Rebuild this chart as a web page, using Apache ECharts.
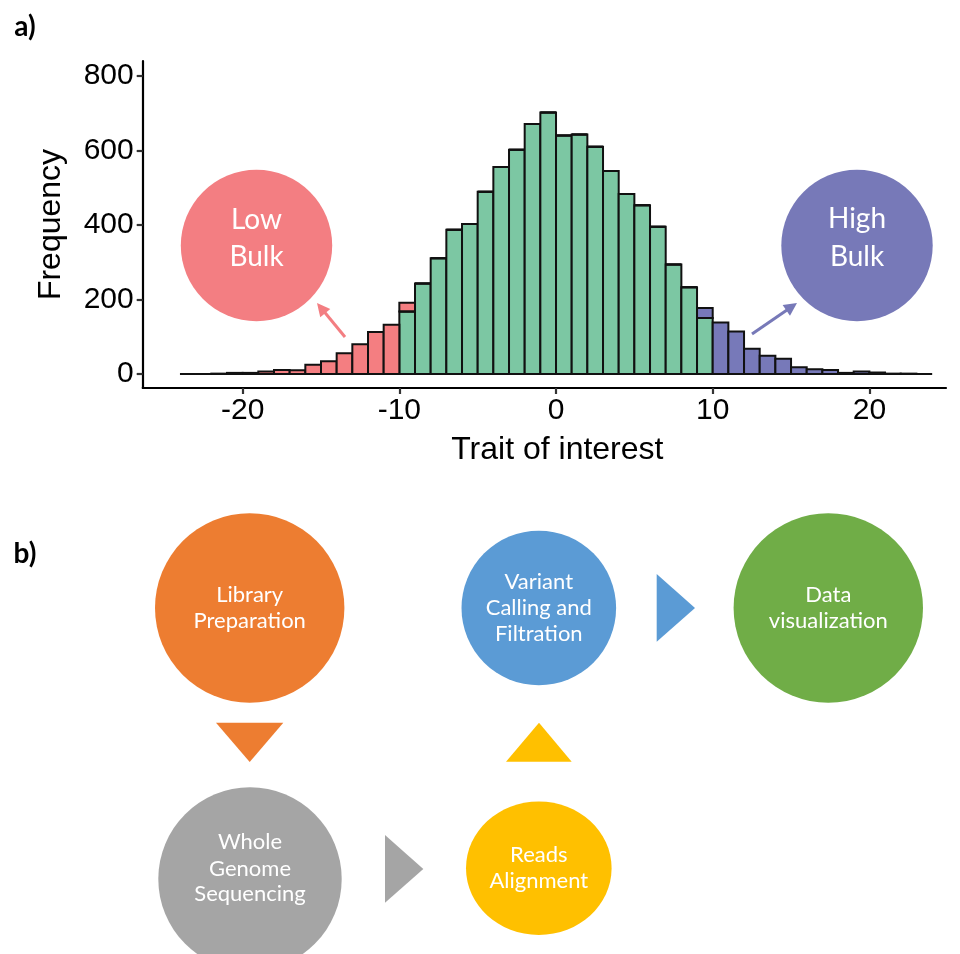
<!DOCTYPE html>
<html>
<head>
<meta charset="utf-8">
<script src="https://cdn.jsdelivr.net/npm/echarts@6/dist/echarts.min.js"></script>
<style>
html,body{margin:0;padding:0;background:#fff;}
#chart{width:960px;height:954px;}
</style>
</head>
<body>
<div id="chart"></div>
<script>
// ---- data ----
const binStart = [-24,-23,-22,-21,-20,-19,-18,-17,-16,-15,-14,-13,-12,-11,-10,-9,-8,-7,-6,-5,-4,-3,-2,-1,0,1,2,3,4,5,6,7,8,9,10,11,12,13,14,15,16,17,18,19,20,21,22,23];
const binWidth = 1;
const lowBulk  = [0,0,1,3,3,7,11,10,25,34,56,80,113,132,23,0,0,0,0,0,0,0,0,0,0,0,0,0,0,0,0,0,0,0,0,0,0,0,0,0,0,0,0,0,0,0,0,0];
const midBulk  = [0,0,0,0,0,0,0,0,0,0,0,0,0,0,168,243,311,387,403,489,556,602,671,702,640,643,610,545,483,453,395,294,233,150,0,0,0,0,0,0,0,0,0,0,0,0,0,0];
const highBulk = [0,0,0,0,0,0,0,0,0,0,0,0,0,0,0,0,0,0,0,0,0,0,0,0,0,0,0,0,0,0,0,0,0,27,138,114,68,49,41,18,13,11,3,7,4,1,1,0];
const xTicks = [-20,-10,0,10,20];
const yTicks = [0,200,400,600,800];

const cLow = '#F47E81', cMid = '#7CC7A3', cHigh = '#7779B9';

function buildRects(which){
  return binStart.map((b,i)=>{
    const m = midBulk[i];
    if(which==='mid') return [b, b+binWidth, 0, m];
    if(which==='low') return [b, b+binWidth, m, m+lowBulk[i]];
    return [b, b+binWidth, m, m+highBulk[i]];
  });
}
function makeRender(color){
  return function(params, api){
    const p0 = api.coord([api.value(0), api.value(3)]);
    const p1 = api.coord([api.value(1), api.value(2)]);
    return {type:'rect', shape:{x:p0[0], y:p0[1], width:p1[0]-p0[0], height:p1[1]-p0[1]},
      style:{fill:color, stroke:'#111', lineWidth:2}};
  };
}
function arrow(x1,y1,x2,y2,color){
  const ang = Math.atan2(y2-y1,x2-x1), L=13, W=6.5;
  const bx = x2 - L*Math.cos(ang), by = y2 - L*Math.sin(ang);
  const nx = -Math.sin(ang), ny = Math.cos(ang);
  return {type:'group', children:[
    {type:'line', shape:{x1:x1,y1:y1,x2:bx+ (x2-bx)*0.2,y2:by+(y2-by)*0.2}, style:{stroke:color, lineWidth:3}},
    {type:'polygon', shape:{points:[[x2,y2],[bx+nx*W,by+ny*W],[bx-nx*W,by-ny*W]]}, style:{fill:color}}
  ]};
}
function txt(x,y,s,size,color,weight,font){
  return {type:'text', x:x, y:y, style:{text:s, fill:color||'#fff', font:(weight||'normal')+' '+size+'px '+(font||'Lato'), align:'center', verticalAlign:'middle'}};
}
const diagFont = 22;
const graphics = [
  txt(25,27,'a)',28,'#000','bold'),
  txt(25,554,'b)',28,'#000','bold'),
  // Bulk annotations
  {type:'circle', shape:{cx:256.5, cy:245.5, r:75.7}, style:{fill:'#F37E82'}},
  txt(256.5,220,'Low',28),
  txt(256.5,257,'Bulk',28),
  arrow(345,337,317,303,'#F37E82'),
  {type:'circle', shape:{cx:857, cy:245.5, r:75.7}, style:{fill:'#7779B8'}},
  txt(857,219,'High',28),
  txt(857,257,'Bulk',28),
  arrow(752,334,797,303,'#7779B8'),
  // Flow diagram
  {type:'circle', shape:{cx:249.7, cy:608, r:94.7}, style:{fill:'#ED7D31'}},
  txt(249.7,595,'Library',diagFont),
  txt(249.7,621,'Preparation',diagFont),
  {type:'polygon', shape:{points:[[216,722.7],[283.3,722.7],[249.7,762]]}, style:{fill:'#ED7D31'}},
  {type:'circle', shape:{cx:538.8, cy:608, r:77.3}, style:{fill:'#5B9BD5'}},
  txt(538.8,582,'Variant',diagFont),
  txt(538.8,607.5,'Calling and',diagFont),
  txt(538.8,633.5,'Filtration',diagFont),
  {type:'polygon', shape:{points:[[656.7,574],[656.7,641.7],[695,608]]}, style:{fill:'#5B9BD5'}},
  {type:'circle', shape:{cx:828.3, cy:608, r:94.7}, style:{fill:'#70AD47'}},
  txt(828.3,594.5,'Data',diagFont),
  txt(828.3,620.5,'visualization',diagFont),
  {type:'polygon', shape:{points:[[506,761.7],[571.7,761.7],[539,722.7]]}, style:{fill:'#FFC000'}},
  {type:'circle', shape:{cx:250, cy:879, r:91.7}, style:{fill:'#A5A5A5'}},
  txt(250,842,'Whole',diagFont),
  txt(250,868.5,'Genome',diagFont),
  txt(250,893.5,'Sequencing',diagFont),
  {type:'polygon', shape:{points:[[385,835],[385,902.7],[423.3,869]]}, style:{fill:'#A5A5A5'}},
  {type:'ellipse', shape:{cx:538.8, cy:868.3, rx:72.8, ry:66.7}, style:{fill:'#FFC000'}},
  txt(538.8,855,'Reads',diagFont),
  txt(538.8,881,'Alignment',diagFont)
];

const chart = echarts.init(document.getElementById('chart'), null, {renderer:'canvas'});
const axisFont = 'Liberation Sans';
chart.setOption({
  animation:false,
  backgroundColor:'#fff',
  grid:{left:142.7, top:61, width:803.3, height:327, containLabel:false},
  xAxis:{type:'value', min:-26.38, max:24.89,
    name:'Trait of interest', nameLocation:'middle', nameGap:46,
    nameTextStyle:{fontFamily:axisFont, fontSize:32, color:'#000', padding:[0,0,0,26]},
    axisLine:{onZero:false, lineStyle:{color:'#000', width:2.2}},
    axisTick:{customValues:xTicks, length:6, lineStyle:{color:'#333', width:2.2}},
    axisLabel:{customValues:xTicks, margin:8, fontFamily:axisFont, fontSize:30, color:'#000'},
    splitLine:{show:false}},
  yAxis:{type:'value', min:-37.6, max:840.3,
    name:'Frequency', nameLocation:'middle', nameGap:76, nameRotate:90,
    nameTextStyle:{fontFamily:axisFont, fontSize:32, color:'#000'},
    axisLine:{show:true, onZero:false, lineStyle:{color:'#000', width:2.2}},
    axisTick:{show:true, customValues:yTicks, length:6, lineStyle:{color:'#333', width:2.2}},
    axisLabel:{customValues:yTicks, margin:9, fontFamily:axisFont, fontSize:30, color:'#000'},
    splitLine:{show:false}},
  series:[
    {type:'custom', name:'Middle', renderItem:makeRender(cMid), encode:{x:[0,1], y:[2,3]}, data:buildRects('mid'), z:2},
    {type:'custom', name:'Low Bulk', renderItem:makeRender(cLow), encode:{x:[0,1], y:[2,3]}, data:buildRects('low'), z:3},
    {type:'custom', name:'High Bulk', renderItem:makeRender(cHigh), encode:{x:[0,1], y:[2,3]}, data:buildRects('high'), z:3}
  ],
  graphic:graphics
});
</script>
</body>
</html>
